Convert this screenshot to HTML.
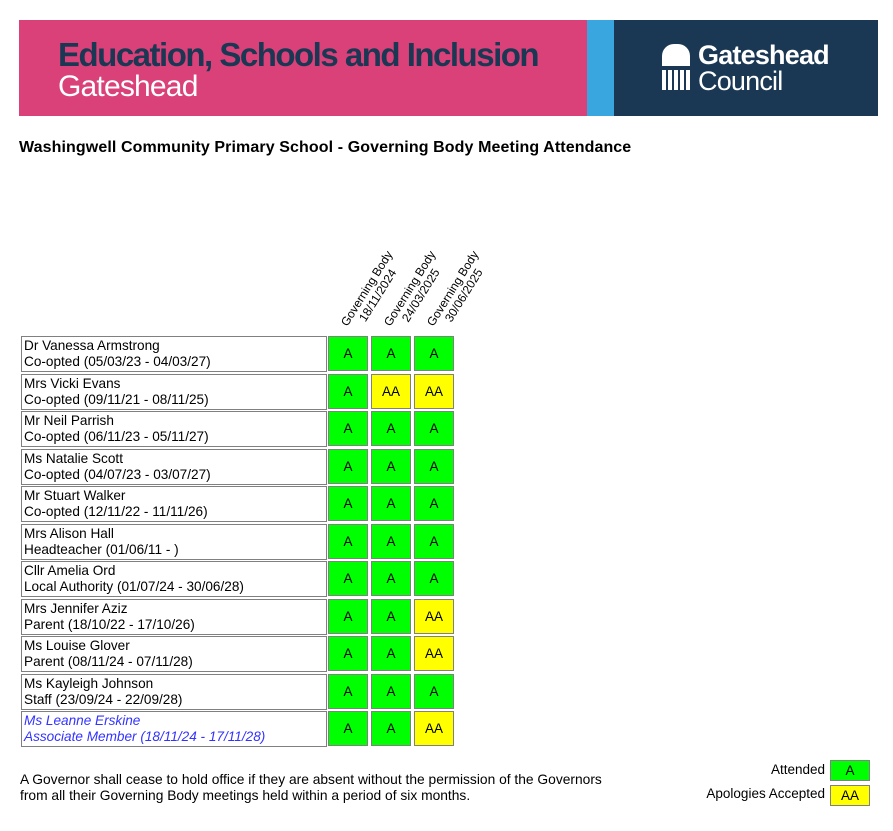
<!DOCTYPE html>
<html><head><style>
body{margin:0;width:893px;height:831px;background:#fff;font-family:"Liberation Sans",Arial,sans-serif;position:relative;overflow:hidden}
.a{position:absolute}
.n{position:absolute;left:21px;width:306px;border:1px solid #808080;font-size:13.6px;line-height:16px;padding:1px 0 0 2px;box-sizing:border-box;height:36px;color:#000}
.c{position:absolute;width:40px;height:35px;box-sizing:border-box;border:1px solid #808080;font-size:13.5px;text-align:center;line-height:34px}
.g{background:#00ff00}.y{background:#ffff00}
.h{position:absolute;font-size:12px;line-height:12.5px;transform-origin:0 100%;transform:rotate(-58deg);white-space:nowrap;text-align:center}
</style></head><body>
<div class="a" style="left:19px;top:20px;width:568px;height:96px;background:#d94178"></div>
<div class="a" style="left:587px;top:20px;width:27px;height:96px;background:#3aa6e0"></div>
<div class="a" style="left:614px;top:20px;width:264px;height:96px;background:#1a3753"></div>
<div class="a" style="left:58px;top:36px;font-size:33px;font-weight:bold;color:#1a3753;letter-spacing:-1.5px">Education, Schools and Inclusion</div>
<div class="a" style="left:58px;top:70px;font-size:30px;color:#fff;letter-spacing:-0.8px">Gateshead</div>
<div class="a" style="left:662px;top:44px;width:28px;height:22px;background:#fff;border-radius:12px 12px 0 0"></div>
<div class="a" style="left:662px;top:70px;width:28px;height:20px;background:repeating-linear-gradient(90deg,#fff 0 4px,#1a3753 4px 6px)"></div>
<div class="a" style="left:698px;top:40px;font-size:27px;font-weight:bold;color:#fff;letter-spacing:-0.8px">Gateshead</div>
<div class="a" style="left:698px;top:66px;font-size:27px;color:#fff;letter-spacing:-0.8px">Council</div>
<div class="a" style="left:19px;top:139px;font-size:16px;font-weight:bold;letter-spacing:0.1px">Washingwell Community Primary School - Governing Body Meeting Attendance</div>

<div class="h" style="left:360px;top:310px">Governing Body<br>18/11/2024</div>
<div class="h" style="left:403px;top:310px">Governing Body<br>24/03/2025</div>
<div class="h" style="left:446px;top:310px">Governing Body<br>30/06/2025</div>

<div class="n" style="top:336px">Dr Vanessa Armstrong<br>Co-opted (05/03/23 - 04/03/27)</div>
<div class="n" style="top:373.5px">Mrs Vicki Evans<br>Co-opted (09/11/21 - 08/11/25)</div>
<div class="n" style="top:411px">Mr Neil Parrish<br>Co-opted (06/11/23 - 05/11/27)</div>
<div class="n" style="top:448.5px">Ms Natalie Scott<br>Co-opted (04/07/23 - 03/07/27)</div>
<div class="n" style="top:486px">Mr Stuart Walker<br>Co-opted (12/11/22 - 11/11/26)</div>
<div class="n" style="top:523.5px">Mrs Alison Hall<br>Headteacher (01/06/11 - )</div>
<div class="n" style="top:561px">Cllr Amelia Ord<br>Local Authority (01/07/24 - 30/06/28)</div>
<div class="n" style="top:598.5px">Mrs Jennifer Aziz<br>Parent (18/10/22 - 17/10/26)</div>
<div class="n" style="top:636px">Ms Louise Glover<br>Parent (08/11/24 - 07/11/28)</div>
<div class="n" style="top:673.5px">Ms Kayleigh Johnson<br>Staff (23/09/24 - 22/09/28)</div>
<div class="n" style="top:711px;color:#3333ff;font-style:italic">Ms Leanne Erskine<br>Associate Member (18/11/24 - 17/11/28)</div>

<div class="c g" style="left:328px;top:336px">A</div><div class="c g" style="left:371px;top:336px">A</div><div class="c g" style="left:414px;top:336px">A</div>
<div class="c g" style="left:328px;top:373.5px">A</div><div class="c y" style="left:371px;top:373.5px">AA</div><div class="c y" style="left:414px;top:373.5px">AA</div>
<div class="c g" style="left:328px;top:411px">A</div><div class="c g" style="left:371px;top:411px">A</div><div class="c g" style="left:414px;top:411px">A</div>
<div class="c g" style="left:328px;top:448.5px">A</div><div class="c g" style="left:371px;top:448.5px">A</div><div class="c g" style="left:414px;top:448.5px">A</div>
<div class="c g" style="left:328px;top:486px">A</div><div class="c g" style="left:371px;top:486px">A</div><div class="c g" style="left:414px;top:486px">A</div>
<div class="c g" style="left:328px;top:523.5px">A</div><div class="c g" style="left:371px;top:523.5px">A</div><div class="c g" style="left:414px;top:523.5px">A</div>
<div class="c g" style="left:328px;top:561px">A</div><div class="c g" style="left:371px;top:561px">A</div><div class="c g" style="left:414px;top:561px">A</div>
<div class="c g" style="left:328px;top:598.5px">A</div><div class="c g" style="left:371px;top:598.5px">A</div><div class="c y" style="left:414px;top:598.5px">AA</div>
<div class="c g" style="left:328px;top:636px">A</div><div class="c g" style="left:371px;top:636px">A</div><div class="c y" style="left:414px;top:636px">AA</div>
<div class="c g" style="left:328px;top:673.5px">A</div><div class="c g" style="left:371px;top:673.5px">A</div><div class="c g" style="left:414px;top:673.5px">A</div>
<div class="c g" style="left:328px;top:711px">A</div><div class="c g" style="left:371px;top:711px">A</div><div class="c y" style="left:414px;top:711px">AA</div>

<div class="a" style="left:20px;top:772px;font-size:13.8px;line-height:16px">A Governor shall cease to hold office if they are absent without the permission of the Governors<br>from all their Governing Body meetings held within a period of six months.</div>
<div class="a" style="right:68px;top:762px;font-size:13.5px">Attended</div>
<div class="a" style="right:68px;top:786px;font-size:13.5px">Apologies Accepted</div>
<div class="c g" style="left:830px;top:760px;height:21px;line-height:19px">A</div>
<div class="c y" style="left:830px;top:785px;height:21px;line-height:19px">AA</div>
</body></html>
